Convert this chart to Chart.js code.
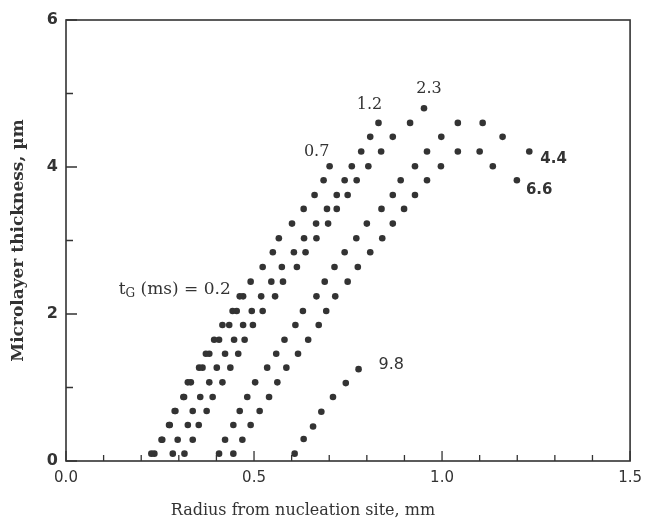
<!DOCTYPE html>
<html>
<head>
<meta charset="utf-8">
<title>Microlayer thickness vs radius</title>
<script src="https://cdn.jsdelivr.net/npm/chart.js@4.4.0/dist/chart.umd.min.js"></script>
<style>
  html, body { margin: 0; padding: 0; background: #fff; }
  #wrap { width: 650px; height: 524px; }
</style>
</head>
<body>
<div id="wrap"><canvas id="microChart" width="650" height="524"></canvas></div>
<script>
// ======================= DATA =======================
// radius from nucleation site (mm) and microlayer thickness (um), one pair per t_G
const radius02 = [0.227, 0.254, 0.274, 0.289, 0.312, 0.324, 0.354, 0.372, 0.394, 0.416, 0.443, 0.462];
const thick02  = [0.10, 0.29, 0.49, 0.68, 0.87, 1.07, 1.27, 1.46, 1.65, 1.85, 2.04, 2.24];

const radius07 = [0.235, 0.256, 0.276, 0.291, 0.314, 0.332, 0.363, 0.381, 0.407, 0.434, 0.454,
                  0.471, 0.491, 0.523, 0.550, 0.566, 0.601, 0.632, 0.661, 0.685, 0.701];
const thick07  = [0.10, 0.29, 0.49, 0.68, 0.87, 1.07, 1.27, 1.46, 1.65, 1.85, 2.04,
                  2.24, 2.44, 2.64, 2.84, 3.03, 3.23, 3.43, 3.62, 3.82, 4.01];

const radius12 = [0.284, 0.297, 0.324, 0.337, 0.357, 0.381, 0.401, 0.423, 0.447, 0.471, 0.494, 0.519,
                  0.546, 0.574, 0.606, 0.633, 0.665, 0.694, 0.720, 0.741, 0.760, 0.785, 0.809, 0.831];
const thick12  = [0.10, 0.29, 0.49, 0.68, 0.87, 1.07, 1.27, 1.46, 1.65, 1.85, 2.04, 2.24,
                  2.44, 2.64, 2.84, 3.03, 3.23, 3.43, 3.62, 3.82, 4.01, 4.21, 4.41, 4.60];

const radius23 = [0.315, 0.337, 0.353, 0.374, 0.390, 0.416, 0.437, 0.458, 0.475, 0.497, 0.523, 0.556, 0.577,
                  0.614, 0.637, 0.666, 0.697, 0.720, 0.749, 0.773, 0.804, 0.838, 0.869, 0.915, 0.952];
const thick23  = [0.10, 0.29, 0.49, 0.68, 0.87, 1.07, 1.27, 1.46, 1.65, 1.85, 2.04, 2.24, 2.44,
                  2.64, 2.84, 3.03, 3.23, 3.43, 3.62, 3.82, 4.01, 4.21, 4.41, 4.60, 4.80];

const radius44 = [0.407, 0.423, 0.445, 0.462, 0.482, 0.503, 0.535, 0.559, 0.581, 0.610, 0.630, 0.666, 0.688, 0.714,
                  0.741, 0.772, 0.800, 0.839, 0.869, 0.890, 0.928, 0.960, 0.998, 1.042, 1.108, 1.161, 1.232];
const thick44  = [0.10, 0.29, 0.49, 0.68, 0.87, 1.07, 1.27, 1.46, 1.65, 1.85, 2.04, 2.24, 2.44, 2.64,
                  2.84, 3.03, 3.23, 3.43, 3.62, 3.82, 4.01, 4.21, 4.41, 4.60, 4.60, 4.41, 4.21];

const radius66 = [0.445, 0.469, 0.491, 0.515, 0.540, 0.562, 0.586, 0.617, 0.644, 0.672, 0.692, 0.716, 0.749,
                  0.776, 0.809, 0.841, 0.869, 0.899, 0.928, 0.960, 0.997, 1.042, 1.100, 1.135, 1.199];
const thick66  = [0.10, 0.29, 0.49, 0.68, 0.87, 1.07, 1.27, 1.46, 1.65, 1.85, 2.04, 2.24, 2.44,
                  2.64, 2.84, 3.03, 3.23, 3.43, 3.62, 3.82, 4.01, 4.21, 4.21, 4.01, 3.82];

const radius98 = [0.608, 0.632, 0.657, 0.679, 0.710, 0.744, 0.778];
const thick98  = [0.10, 0.30, 0.47, 0.67, 0.87, 1.06, 1.25];

// bubble growth time t_G (ms) for each curve
const growthTimes = ['0.2', '0.7', '1.2', '2.3', '4.4', '6.6', '9.8'];
const radii  = [radius02, radius07, radius12, radius23, radius44, radius66, radius98];
const thicks = [thick02, thick07, thick12, thick23, thick44, thick66, thick98];

// axis ticks
const xMin = 0, xMax = 1.5, xStep = 0.1, xLabelEvery = 0.5;
const yMin = 0, yMax = 6, yStep = 1, yLabelEvery = 2;

const xTitle = 'Radius from nucleation site, mm';
const yTitle = 'Microlayer thickness, \u00b5m';

// ======================= STYLE =======================
const INK = '#333';

// where each t_G tag sits relative to the last dot of its curve
const TAGS = {
  '0.2': { dx: -9,   dy: -7,  align: 'right',  font: '17px "DejaVu Serif"', prefix: true },
  '0.7': { dx: -13,  dy: -14, align: 'center', font: '16px "DejaVu Serif"' },
  '1.2': { dx: -9,   dy: -18, align: 'center', font: '16px "DejaVu Serif"' },
  '2.3': { dx: 5,    dy: -19, align: 'center', font: '16px "DejaVu Serif"' },
  '4.4': { dx: 11,   dy: 8,   align: 'left',   font: 'bold 15px "DejaVu Sans"' },
  '6.6': { dx: 9,    dy: 10,  align: 'left',   font: 'bold 15px "DejaVu Sans"' },
  '9.8': { dx: 20,   dy: -4,  align: 'left',   font: '16px "DejaVu Sans"' }
};

// helper: is v a multiple of step (float safe)
function isMultiple(v, step) {
  const q = v / step;
  return Math.abs(q - Math.round(q)) < 1e-6;
}

// ======================= PLUGINS =======================
// box round the plot + inward tick marks + x title (sits left of centre in the original)
const frameTicks = {
  id: 'frameTicks',
  afterDraw(chart) {
    const { ctx, chartArea: a, scales: { x, y } } = chart;
    ctx.save();
    ctx.strokeStyle = INK;
    ctx.lineWidth = 1.6;
    ctx.strokeRect(a.left, a.top, a.right - a.left, a.bottom - a.top);

    ctx.lineWidth = 1.3;
    ctx.beginPath();
    x.ticks.forEach(t => {
      const px = x.getPixelForValue(t.value);
      const len = t.label ? 10 : 6;
      ctx.moveTo(px, a.bottom);
      ctx.lineTo(px, a.bottom - len);
    });
    y.ticks.forEach(t => {
      const py = y.getPixelForValue(t.value);
      const len = t.label ? 11 : 7;
      ctx.moveTo(a.left, py);
      ctx.lineTo(a.left + len, py);
    });
    ctx.stroke();

    ctx.fillStyle = INK;
    ctx.font = '16px "DejaVu Serif"';
    ctx.textAlign = 'center';
    ctx.textBaseline = 'middle';
    ctx.fillText(xTitle, a.left + (a.right - a.left) * 0.42, x.bottom - 13);
    ctx.restore();
  }
};

// t_G labels at the end of each curve
const curveTags = {
  id: 'curveTags',
  afterDatasetsDraw(chart) {
    const { ctx } = chart;
    ctx.save();
    ctx.fillStyle = INK;
    ctx.textBaseline = 'middle';
    chart.data.datasets.forEach((ds, i) => {
      const tag = TAGS[ds.label];
      const pts = chart.getDatasetMeta(i).data;
      const end = pts[pts.length - 1];
      const tx = end.x + tag.dx;
      const ty = end.y + tag.dy;
      ctx.font = tag.font;
      ctx.textAlign = tag.align;
      ctx.fillText(ds.label, tx, ty);

      if (tag.prefix) {
        // "t_G (ms) = " in front of the first value
        let cx = tx - ctx.measureText(ds.label).width;
        const rest = ' (ms) = ';
        ctx.textAlign = 'right';
        ctx.fillText(rest, cx, ty);
        cx -= ctx.measureText(rest).width;
        ctx.font = '12px "DejaVu Serif"';
        ctx.fillText('G', cx, ty + 5);
        cx -= ctx.measureText('G').width;
        ctx.font = tag.font;
        ctx.fillText('t', cx, ty);
      }
    });
    ctx.restore();
  }
};

// ======================= CHART =======================
const datasets = growthTimes.map((label, i) => ({
  label,
  data: radii[i].map((r, k) => ({ x: r, y: thicks[i][k] })),
  showLine: false,
  pointRadius: 3.3,
  pointHoverRadius: 3.3,
  pointBackgroundColor: INK,
  pointBorderWidth: 0
}));

const ctx = document.getElementById('microChart').getContext('2d');

new Chart(ctx, {
  type: 'scatter',
  data: { datasets },
  options: {
    responsive: false,
    animation: false,
    layout: { padding: { top: 20, right: 16, left: 0, bottom: 0 } },
    plugins: {
      legend: { display: false },
      tooltip: { enabled: false }
    },
    scales: {
      x: {
        type: 'linear',
        min: xMin,
        max: xMax,
        afterFit: s => { s.height = 63; },
        grid: { display: false, drawTicks: false },
        border: { display: false },
        ticks: {
          stepSize: xStep,
          autoSkip: false,
          maxRotation: 0,
          padding: 8,
          color: INK,
          font: { family: 'DejaVu Sans', size: 15 },
          callback: v => (isMultiple(v, xLabelEvery) ? v.toFixed(1) : '')
        }
      },
      y: {
        type: 'linear',
        min: yMin,
        max: yMax,
        afterFit: s => { s.width = 66; },
        grid: { display: false, drawTicks: false },
        border: { display: false },
        ticks: {
          stepSize: yStep,
          autoSkip: false,
          padding: 8,
          color: INK,
          font: { family: 'DejaVu Sans', size: 16, weight: 'bold' },
          callback: v => (isMultiple(v, yLabelEvery) ? String(v) : '')
        },
        title: {
          display: true,
          text: yTitle,
          color: INK,
          font: { family: 'DejaVu Serif', size: 17, weight: 'bold' },
          padding: { top: 8, bottom: 0 }
        }
      }
    }
  },
  plugins: [frameTicks, curveTags]
});
</script>
</body>
</html>
